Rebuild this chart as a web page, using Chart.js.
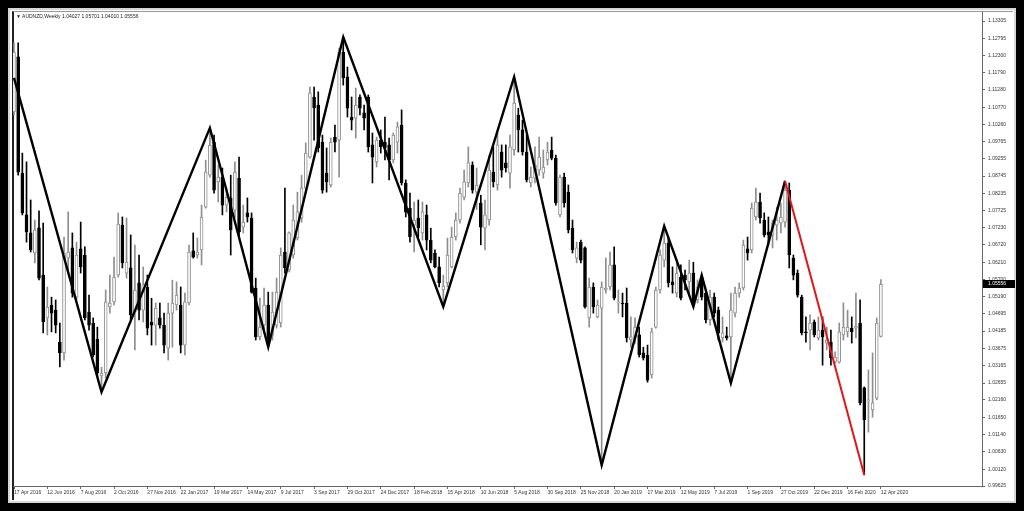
<!DOCTYPE html>
<html>
<head>
<meta charset="utf-8">
<script src="https://cdn.jsdelivr.net/npm/chart.js@4.4.1/dist/chart.umd.min.js"></script>
<style>
    html, body { margin: 0; padding: 0; background: #000; }
    body { width: 1024px; height: 511px; position: relative; overflow: hidden; }
    #win {
        position: absolute; left: 8px; top: 8px; width: 1008px; height: 495px;
        box-sizing: border-box; background: #fff;
        border: 2px solid #d6d6d6;
    }
    #inner {
        position: absolute; left: 2px; top: 1px; right: 1px; bottom: 1px;
        border-left: 2px solid #222; border-top: 1px solid #999;
    }
    #hdr {
        position: absolute; left: 16px; top: 13px;
        font: 5px "Liberation Sans", Arial, sans-serif; color: #222;
        white-space: nowrap; z-index: 3;
    }
    #chart { position: absolute; left: 0; top: 0; z-index: 2; }
</style>
</head>
<body>
<div id="win"><div id="inner"></div></div>
<div id="hdr"></div>
<canvas id="chart" width="1024" height="511"></canvas>
<script>
/* ========================================
   AUDNZD weekly - candles + zigzag
   ======================================== */

const symbolName = 'AUDNZD,Weekly';

// x tick labels, one every 8 weeks (week 0 = 17 Apr 2016)
const xTickLabels = ['17 Apr 2016', '12 Jun 2016', '7 Aug 2016', '2 Oct 2016', '27 Nov 2016', '22 Jan 2017',
    '19 Mar 2017', '14 May 2017', '9 Jul 2017', '3 Sep 2017', '29 Oct 2017', '24 Dec 2017', '18 Feb 2018',
    '15 Apr 2018', '10 Jun 2018', '5 Aug 2018', '30 Sep 2018', '25 Nov 2018', '20 Jan 2019', '17 Mar 2019',
    '12 May 2019', '7 Jul 2019', '1 Sep 2019', '27 Oct 2019', '22 Dec 2019', '16 Feb 2020', '12 Apr 2020'];

// price axis labels
const yTickValues = [1.13305, 1.12795, 1.12300, 1.11790, 1.11280, 1.10770, 1.10260, 1.09765, 1.09255,
    1.08745, 1.08235, 1.07725, 1.07230, 1.06720, 1.06210, 1.05700, 1.05190, 1.04695, 1.04185, 1.03675,
    1.03165, 1.02655, 1.02160, 1.01650, 1.01140, 1.00630, 1.00120, 0.99625];

const openP = [
    1.1063,1.1225,1.0883,1.0760,1.0707,1.0648,1.0722,1.0583,1.0457,1.0495,
    1.0480,1.0386,1.0354,1.0633,1.0663,1.0518,1.0660,1.0642,1.0474,1.0442,
    1.0395,1.0286,1.0295,1.0489,1.0504,1.0583,1.0730,1.0589,1.0604,1.0474,
    1.0560,1.0480,1.0548,1.0445,1.0436,1.0457,1.0436,1.0368,1.0471,1.0495,
    1.0495,1.0377,1.0501,1.0654,1.0642,1.0657,1.0783,1.0877,1.0974,1.0857,
    1.0871,1.0789,1.0810,1.0774,1.0868,1.0724,1.0766,1.0751,1.0545,1.0401,
    1.0436,1.0495,1.0407,1.0436,1.0442,1.0651,1.0598,1.0642,1.0692,1.0751,
    1.0839,1.0930,1.1107,1.1083,1.0974,1.0883,1.0848,1.0989,1.0980,1.1239,
    1.1166,1.1048,1.1045,1.1107,1.1060,1.1107,1.0966,1.0916,1.0980,1.0974,
    1.0966,1.0922,1.0974,1.1024,1.0854,1.0780,1.0730,1.0751,1.0707,1.0760,
    1.0686,1.0648,1.0607,1.0539,1.0560,1.0607,1.0695,1.0745,1.0812,1.0854,
    1.0907,1.0827,1.0795,1.0721,1.0745,1.0886,1.0848,1.0945,1.0913,1.0883,
    1.0951,1.1054,1.1010,1.0945,1.0854,1.0868,1.0892,1.0883,1.0922,1.0951,
    1.0927,1.0760,1.0871,1.0827,1.0721,1.0633,1.0680,1.0663,1.0457,1.0548,
    1.0460,1.0486,1.0539,1.0548,1.0613,1.0501,1.0501,1.0501,1.0392,1.0398,
    1.0407,1.0354,1.0348,1.0289,1.0430,1.0539,1.0627,1.0677,1.0563,1.0530,
    1.0577,1.0583,1.0563,1.0589,1.0510,1.0574,1.0530,1.0451,1.0518,1.0480,
    1.0398,1.0404,1.0401,1.0471,1.0530,1.0545,1.0660,1.0657,1.0754,1.0798,
    1.0745,1.0710,1.0701,1.0730,1.0736,1.0739,1.0833,1.0633,1.0589,1.0518,
    1.0416,1.0421,1.0445,1.0398,1.0421,1.0383,1.0386,1.0327,1.0327,1.0407,
    1.0416,1.0427,1.0427,1.0442,1.0251,1.0213,1.0186,1.0221,1.04027
];
const highP = [
    1.1266,1.1266,1.0942,1.0916,1.0804,1.0745,1.0772,1.0736,1.0548,1.0518,
    1.0510,1.0442,1.0695,1.0769,1.0707,1.0680,1.0739,1.0666,1.0524,1.0457,
    1.0430,1.0312,1.0539,1.0583,1.0636,1.0766,1.0754,1.0751,1.0701,1.0671,
    1.0642,1.0607,1.0583,1.0515,1.0501,1.0501,1.0471,1.0501,1.0568,1.0563,
    1.0548,1.0530,1.0671,1.0707,1.0692,1.0789,1.0921,1.1016,1.0995,1.0907,
    1.0898,1.0839,1.0877,1.0916,1.0930,1.0789,1.0810,1.0766,1.0574,1.0515,
    1.0545,1.0533,1.0533,1.0574,1.0663,1.0839,1.0710,1.0789,1.0827,1.0877,
    1.0972,1.1136,1.1136,1.1122,1.0995,1.0957,1.0986,1.1024,1.1251,1.1283,
    1.1195,1.1107,1.1133,1.1113,1.1083,1.1113,1.1001,1.0989,1.1010,1.1048,
    1.0986,1.1001,1.1033,1.1069,1.0863,1.0824,1.0798,1.0804,1.0798,1.0789,
    1.0721,1.0657,1.0636,1.0583,1.0692,1.0724,1.0766,1.0839,1.0892,1.0960,
    1.0916,1.0898,1.0818,1.0804,1.0936,1.0960,1.1001,1.0966,1.0966,1.0995,
    1.1166,1.1074,1.1039,1.0995,1.0901,1.0960,1.0989,1.0951,1.0974,1.0989,
    1.0936,1.0877,1.0883,1.0848,1.0745,1.0680,1.0686,1.0666,1.0574,1.0560,
    1.0510,1.0563,1.0633,1.0651,1.0666,1.0539,1.0530,1.0545,1.0460,1.0457,
    1.0430,1.0371,1.0377,1.0427,1.0548,1.0657,1.0727,1.0692,1.0607,1.0627,
    1.0613,1.0598,1.0627,1.0621,1.0569,1.0583,1.0539,1.0539,1.0530,1.0489,
    1.0460,1.0430,1.0530,1.0548,1.0560,1.0686,1.0695,1.0795,1.0839,1.0824,
    1.0766,1.0754,1.0745,1.0783,1.0795,1.0860,1.0854,1.0642,1.0598,1.0524,
    1.0460,1.0466,1.0451,1.0460,1.0460,1.0430,1.0421,1.0357,1.0442,1.0501,
    1.0480,1.0460,1.0530,1.0510,1.0254,1.0304,1.0354,1.0457,1.05701
];
const lowP = [
    1.1054,1.0877,1.0760,1.0680,1.0651,1.0619,1.0569,1.0413,1.0407,1.0416,
    1.0413,1.0313,1.0333,1.0589,1.0518,1.0510,1.0589,1.0451,1.0421,1.0342,
    1.0283,1.0245,1.0280,1.0471,1.0495,1.0577,1.0604,1.0574,1.0451,1.0363,
    1.0451,1.0445,1.0407,1.0377,1.0377,1.0427,1.0354,1.0333,1.0371,1.0480,
    1.0354,1.0348,1.0495,1.0633,1.0633,1.0613,1.0780,1.0871,1.0824,1.0798,
    1.0760,1.0769,1.0642,1.0751,1.0692,1.0707,1.0739,1.0530,1.0392,1.0392,
    1.0413,1.0371,1.0392,1.0427,1.0430,1.0589,1.0592,1.0633,1.0686,1.0739,
    1.0827,1.0927,1.0980,1.0945,1.0824,1.0827,1.0842,1.0945,1.0871,1.1142,
    1.1048,1.1010,1.0986,1.1054,1.1010,1.0945,1.0854,1.0901,1.0942,1.0922,
    1.0863,1.0913,1.0942,1.0848,1.0754,1.0680,1.0651,1.0695,1.0686,1.0657,
    1.0619,1.0604,1.0548,1.0495,1.0548,1.0604,1.0686,1.0736,1.0804,1.0842,
    1.0824,1.0776,1.0672,1.0657,1.0730,1.0842,1.0833,1.0871,1.0886,1.0839,
    1.0936,1.0945,1.0936,1.0857,1.0842,1.0854,1.0877,1.0868,1.0907,1.0922,
    1.0789,1.0754,1.0783,1.0707,1.0648,1.0619,1.0619,1.0486,1.0430,1.0471,
    1.0457,1.0024,1.0530,1.0539,1.0510,1.0471,1.0460,1.0386,1.0371,1.0383,
    1.0342,1.0333,1.0268,1.0280,1.0427,1.0530,1.0607,1.0548,1.0530,1.0518,
    1.0510,1.0539,1.0530,1.0490,1.0501,1.0510,1.0442,1.0436,1.0460,1.0392,
    1.0386,1.0392,1.0265,1.0460,1.0518,1.0539,1.0627,1.0648,1.0745,1.0736,
    1.0695,1.0671,1.0663,1.0686,1.0707,1.0724,1.0604,1.0569,1.0518,1.0407,
    1.0386,1.0363,1.0401,1.0392,1.0318,1.0363,1.0318,1.0324,1.0324,1.0392,
    1.0401,1.0383,1.0398,1.0201,0.9995,1.0121,1.0165,1.0216,1.04010
];
const closeP = [
    1.1239,1.0886,1.0766,1.0710,1.0657,1.0716,1.0574,1.0445,1.0489,1.0471,
    1.0436,1.0354,1.0648,1.0651,1.0530,1.0642,1.0607,1.0457,1.0436,1.0348,
    1.0295,1.0295,1.0504,1.0501,1.0577,1.0733,1.0619,1.0621,1.0466,1.0539,
    1.0480,1.0554,1.0427,1.0436,1.0486,1.0436,1.0377,1.0471,1.0501,1.0524,
    1.0377,1.0504,1.0651,1.0636,1.0651,1.0754,1.0886,1.0965,1.0833,1.0871,
    1.0789,1.0812,1.0716,1.0886,1.0710,1.0739,1.0754,1.0533,1.0401,1.0430,
    1.0495,1.0392,1.0474,1.0533,1.0642,1.0604,1.0707,1.0745,1.0769,1.0839,
    1.0942,1.1119,1.1075,1.0957,1.0833,1.0857,1.0974,1.0974,1.1239,1.1163,
    1.1074,1.1039,1.1083,1.1074,1.1045,1.0960,1.0930,1.0980,1.0960,1.0957,
    1.0922,1.0995,1.1019,1.0854,1.0768,1.0695,1.0745,1.0722,1.0769,1.0686,
    1.0627,1.0607,1.0560,1.0551,1.0642,1.0695,1.0745,1.0824,1.0857,1.0913,
    1.0833,1.0848,1.0724,1.0760,1.0892,1.0857,1.0966,1.0892,1.0898,1.0960,
    1.1089,1.1010,1.0945,1.0863,1.0871,1.0907,1.0930,1.0901,1.0945,1.0927,
    1.0795,1.0871,1.0795,1.0716,1.0657,1.0663,1.0627,1.0489,1.0548,1.0489,
    1.0495,1.0548,1.0545,1.0613,1.0515,1.0504,1.0498,1.0398,1.0401,1.0430,
    1.0348,1.0339,1.0274,1.0416,1.0539,1.0642,1.0677,1.0560,1.0554,1.0589,
    1.0515,1.0569,1.0589,1.0504,1.0548,1.0518,1.0451,1.0518,1.0471,1.0413,
    1.0413,1.0398,1.0480,1.0530,1.0545,1.0671,1.0648,1.0780,1.0798,1.0751,
    1.0701,1.0701,1.0736,1.0745,1.0754,1.0833,1.0642,1.0583,1.0524,1.0413,
    1.0413,1.0442,1.0407,1.0421,1.0401,1.0392,1.0339,1.0342,1.0416,1.0430,
    1.0430,1.0416,1.0433,1.0207,1.0157,1.0216,1.0207,1.0442,1.05556
];

// zigzag pivots (week index, price)
const zigIdx = [0, 21, 47, 61, 79, 103, 120, 141, 156, 163, 165, 172, 185];
const zigVal = [1.1163, 1.0239, 1.1016, 1.0371, 1.1283, 1.0490, 1.1166, 1.0024, 1.0727, 1.0490, 1.0583, 1.0265, 1.0860];
// last leg drawn in red
const redIdx = [185, 204];
const redVal = [1.0860, 0.9995];

const BULL_EDGE = '#8e8e8e';
const BEAR = '#000000';
const FONT = 'Liberation Sans';

document.addEventListener('DOMContentLoaded', function() {
    const n = closeP.length - 1;
    document.getElementById('hdr').textContent = '\u25BC ' + symbolName + '  ' +
        openP[n].toFixed(5) + ' ' + highP[n].toFixed(5) + ' ' + lowP[n].toFixed(5) + ' ' + closeP[n].toFixed(5);
    drawChart();
});

// black box with the last price on the price axis
const lastPriceBox = {
    id: 'lastPriceBox',
    afterDraw(chart) {
        const { ctx, chartArea, scales } = chart;
        const last = closeP[closeP.length - 1];
        const py = Math.round(scales.y.getPixelForValue(last));
        ctx.save();
        ctx.fillStyle = '#000';
        ctx.fillRect(chartArea.right + 1, py - 4, 32, 8);
        ctx.fillStyle = '#fff';
        ctx.font = '5px "' + FONT + '"';
        ctx.textBaseline = 'middle';
        ctx.fillText(last.toFixed(5), chartArea.right + 6, py);
        ctx.restore();
    }
};

function drawChart() {
    const ctx = document.getElementById('chart');
    const isBull = closeP.map((c, i) => c >= openP[i]);

    new Chart(ctx, {
        type: 'bar',
        data: {
            datasets: [
                {
                    label: 'wick',
                    data: closeP.map((c, i) => ({ x: i, y: [lowP[i], highP[i]] })),
                    backgroundColor: isBull.map(b => b ? BULL_EDGE : BEAR),
                    barThickness: 1,
                    order: 3
                },
                {
                    label: 'body',
                    data: closeP.map((c, i) => ({ x: i, y: [openP[i], c] })),
                    backgroundColor: isBull.map(b => b ? '#ffffff' : BEAR),
                    borderColor: isBull.map(b => b ? BULL_EDGE : BEAR),
                    borderWidth: 1,
                    borderSkipped: false,
                    barThickness: 3,
                    minBarLength: 1,
                    order: 2
                },
                {
                    type: 'line',
                    label: 'zigzag',
                    data: zigIdx.map((x, k) => ({ x: x, y: zigVal[k] })),
                    borderColor: '#000',
                    borderWidth: 2.4,
                    pointRadius: 0,
                    tension: 0,
                    order: 1
                },
                {
                    type: 'line',
                    label: 'zigzag last',
                    data: redIdx.map((x, k) => ({ x: x, y: redVal[k] })),
                    borderColor: '#e3151b',
                    borderWidth: 2,
                    pointRadius: 0,
                    tension: 0,
                    order: 0
                }
            ]
        },
        options: {
            responsive: false,
            animation: false,
            grouped: false,
            layout: { padding: { left: 13, top: 12, right: 0, bottom: 0 } },
            plugins: {
                legend: { display: false },
                tooltip: { enabled: false }
            },
            scales: {
                x: {
                    type: 'linear',
                    offset: false,
                    min: -0.24,
                    max: 232.25,
                    afterBuildTicks: function(scale) {
                        scale.ticks = xTickLabels.map((_, k) => ({ value: k * 8 }));
                    },
                    afterFit: function(scale) { scale.height = 25; },
                    ticks: {
                        autoSkip: false,
                        maxRotation: 0,
                        align: 'start',
                        padding: 1,
                        color: '#333',
                        font: { family: FONT, size: 5 },
                        callback: function(value) {
                            return xTickLabels[Math.round(value / 8)];
                        }
                    },
                    grid: { drawOnChartArea: false, offset: false, tickLength: 3, color: '#666' },
                    border: { color: '#666' }
                },
                y: {
                    position: 'right',
                    min: 0.99625,
                    max: 1.13570,
                    afterBuildTicks: function(scale) {
                        scale.ticks = yTickValues.map(v => ({ value: v }));
                    },
                    afterFit: function(scale) { scale.width = 42; },
                    ticks: {
                        padding: 3,
                        color: '#333',
                        font: { family: FONT, size: 5 },
                        callback: function(value) { return value.toFixed(5); }
                    },
                    grid: { drawOnChartArea: false, tickLength: 3, color: '#666' },
                    border: { color: '#666' }
                }
            }
        },
        plugins: [lastPriceBox]
    });
}
</script>
</body>
</html>
